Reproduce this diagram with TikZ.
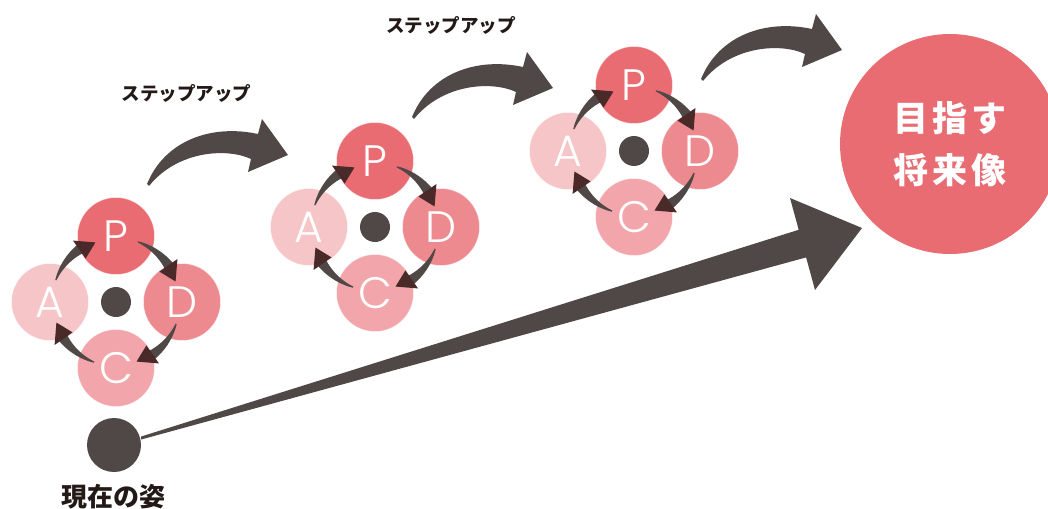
\documentclass[tikz,border=0pt]{standalone}
\usepackage{fontspec}
\newfontfamily\jpfont{Noto Sans CJK JP}
\newfontfamily\capsfont{Poppins Light}
\usetikzlibrary{calc}

\definecolor{inkgray}{RGB}{80,72,70}
\definecolor{tipbrown}{RGB}{74,42,40}
\definecolor{plancol}{RGB}{233,108,115}
\definecolor{docol}{RGB}{237,138,143}
\definecolor{checkcol}{RGB}{242,166,171}
\definecolor{actcol}{RGB}{246,197,200}
\definecolor{labelink}{RGB}{35,26,24}

\tikzset{
  phase/.style={circle, inner sep=0pt, minimum size=77pt, fill=#1,
    draw=white, draw opacity=0.45, line width=0.7pt, text=white,
    font=\capsfont\fontsize{44}{44}\selectfont},
  hub/.style={circle, inner sep=0pt, minimum size=30pt, fill=inkgray},
  stepnote/.style={text=labelink, font=\jpfont\bfseries\fontsize{18.5}{20}\selectfont},
  cyclebody/.style={fill=inkgray},
  cycletip/.style={fill=tipbrown},
  bigarrow/.style={fill=inkgray},
}

% one PDCA wheel: name prefix, centre x, centre y
\newcommand\pdcacycle[3]{%
  \node[hub] (#1hub) at (#2,#3) {};
  \node[phase=plancol]  (#1P) at (#2,#3-66) {P};
  \node[phase=docol]    (#1D) at (#2+66,#3) {D};
  \node[phase=checkcol] (#1C) at (#2,#3+66) {C};
  \node[phase=actcol]   (#1A) at (#2-66,#3) {A};
  \foreach \s in {70,-20,-110,160}{
    \fill[cyclebody]
      plot[domain=\s:\s-36, samples=24]
        ({#2+(64+0.6+4.4*(\s-\x)/36)*cos(\x)}, {#3-(64+0.6+4.4*(\s-\x)/36)*sin(\x)})
      -- plot[domain=\s-36:\s, samples=24]
        ({#2+(64-0.6-4.4*(\s-\x)/36)*cos(\x)}, {#3-(64-0.6-4.4*(\s-\x)/36)*sin(\x)})
      -- cycle;
    \fill[cycletip]
      ({#2+75*cos(\s-35)}, {#3-75*sin(\s-35)})
      -- ({#2+63*cos(\s-51)}, {#3-63*sin(\s-51)})
      -- ({#2+53*cos(\s-35)}, {#3-53*sin(\s-35)}) -- cycle;
  }%
}

% curved "step up" arrow, drawn at its first position
\newcommand\steparrowpath{%
  (147,184) .. controls (165,140) and (212,124) .. (258,134)
  -- (262,119) -- (288,155) -- (248,172) -- (251,159)
  .. controls (228,148) and (178,150) .. (149,186) -- cycle}

\begin{document}
\begin{tikzpicture}[x=1pt,y=-1pt]
\useasboundingbox (0,0) rectangle (1048,508);

% the three PDCA wheels
\pdcacycle{one}{116}{302}
\pdcacycle{two}{375}{227}
\pdcacycle{three}{634}{151}

% step-up arrows between the wheels
\fill[bigarrow] \steparrowpath;
\fill[bigarrow, shift={(265,-67)}] \steparrowpath;
\fill[bigarrow, shift={(554,-105)}] \steparrowpath;

\node[stepnote] (stepA) at (186.5,93.5) {ステップアップ};
\node[stepnote] (stepB) at (451,25) {ステップアップ};

% present state
\node[circle, inner sep=0pt, minimum size=54pt, fill=inkgray] (now) at (114,445) {};
\node[text=labelink, font=\jpfont\bfseries\fontsize{26}{30}\selectfont] (nowlabel) at (113.5,497) {現在の姿};

% goal
\node[circle, inner sep=0pt, minimum size=220pt, fill=plancol, text=white, align=center,
      font=\jpfont\bfseries\fontsize{35}{52}\selectfont] (goal) at (950,144)
      {目\kern4pt 指\kern4pt す\\将\kern4pt 来\kern4pt 像};

% long arrow from the present state towards the goal
\coordinate (tailtop) at ($(now.east)+(0,-8.5)$);
\coordinate (tailbot) at ($(now.east)+(0,-5.5)$);
\coordinate (tip) at (862,228);
\fill[bigarrow] (tailtop) -- (798.7,229.8) -- (790,198) -- (tip) -- (815,290)
  -- (806.1,257.4) -- (tailbot) -- cycle;

\end{tikzpicture}
\end{document}
